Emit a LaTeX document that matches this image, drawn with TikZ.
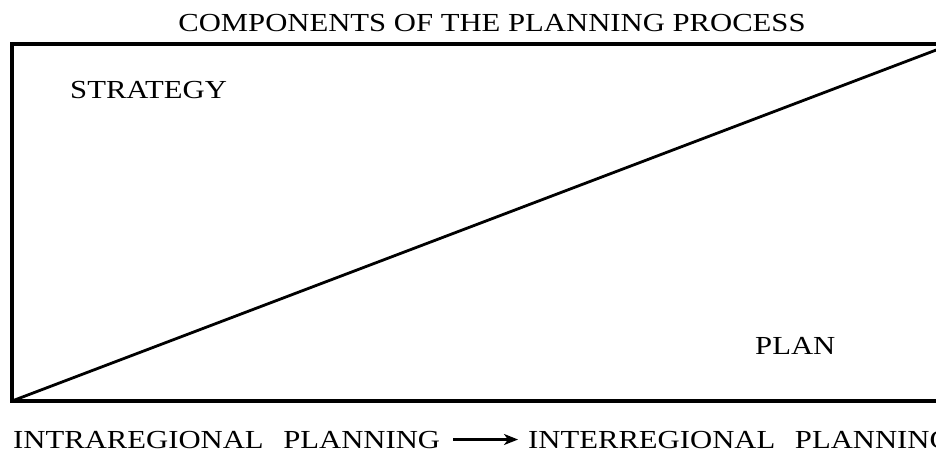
\documentclass[tikz,border=0pt]{standalone}
\usepackage{fontspec}
\setmainfont{Liberation Serif}[FakeStretch=1.18]
\usetikzlibrary{arrows.meta}

\begin{document}
\begin{tikzpicture}[x=1pt, y=1pt, >={Stealth[length=14pt, width=11pt, inset=4pt]}, every node/.style={font=\fontsize{26}{30}\selectfont, inner sep=0pt}]
  \useasboundingbox (0,0) rectangle (936,455);
  \clip (0,0) rectangle (936,455);
  \coordinate (boxSW) at (12,54);
  \coordinate (boxNE) at (952,411);
  \draw[line width=3.2pt] (boxSW) rectangle (boxNE);
  \draw[line width=2.8pt] (boxSW) -- (boxNE);
  \node[anchor=base] (title) at (492,423) {COMPONENTS OF THE PLANNING PROCESS};
  \node[anchor=base west] (strategy) at (70,356) {STRATEGY};
  \node[anchor=base west] (plan) at (755,100) {PLAN};
  \node[anchor=base west] (intra) at (13,7) {INTRAREGIONAL\hspace{12pt} PLANNING};
  \node[anchor=base west] (inter) at (528,7) {INTERREGIONAL\hspace{12pt} PLANNING};
  \draw[->, line width=2.2pt, shorten <=13pt, shorten >=10pt] (intra) -- (inter);
\end{tikzpicture}
\end{document}
